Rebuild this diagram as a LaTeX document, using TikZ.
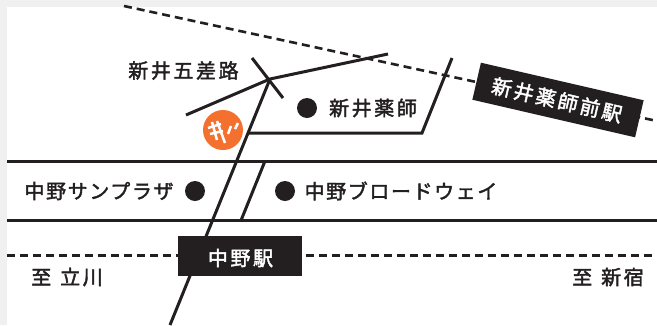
\documentclass[tikz,border=0pt]{standalone}
\usepackage{fontspec}
\newfontfamily\jp[LetterSpace=13,FakeBold=2]{Noto Sans CJK JP}
\newfontfamily\jpk[LetterSpace=8,FakeBold=2]{Noto Sans CJK JP}
\definecolor{ink}{HTML}{231F20}
\definecolor{bgm}{HTML}{F0F0F0}
\definecolor{logo}{HTML}{F4702E}
\tikzset{
  road/.style={draw=ink,line width=3pt},
  rail/.style={draw=ink,line width=2.6pt,dash pattern=on 8pt off 5pt},
  lbl/.style={font=\jp\fontsize{20}{22}\selectfont,text=ink,inner sep=0pt},
  klbl/.style={font=\jpk\fontsize{20}{22}\selectfont,text=ink,inner sep=0pt},
  wlbl/.style={font=\jp\fontsize{20}{22}\selectfont,text=white,inner sep=0pt},
  dot/.style={circle,fill=ink,minimum size=20pt,inner sep=0pt},
  stbox/.style={fill=ink,inner sep=0pt},
  glyph/.style={draw=white,line width=2.5pt},
}
\begin{document}
\begin{tikzpicture}[x=1pt,y=-1pt]
\useasboundingbox (0,0) rectangle (657,325);
\fill[bgm] (0,0) rectangle (657,325);
\fill[white] (7,7) rectangle (657,325);
% named points
\coordinate (r1) at (124,6);
\coordinate (r2) at (657,121);
\coordinate (w) at (186,115);
\coordinate (j) at (270,79);
\coordinate (e) at (388,54);
\coordinate (c1) at (252,58);
\coordinate (c2) at (283,98);
\coordinate (s) at (170,325);
\coordinate (p1) at (248,133);
\coordinate (p2) at (422,133);
\coordinate (p3) at (452,58);
\coordinate (h1a) at (7,161);
\coordinate (h1b) at (657,161);
\coordinate (h2a) at (7,220.5);
\coordinate (h2b) at (657,220.5);
\coordinate (d1) at (265,161);
\coordinate (d2) at (241,220.5);
\coordinate (t1) at (7,255.5);
\coordinate (t2) at (657,255.5);
% lines
\draw[rail] (r1) -- (r2);
\draw[rail] (t1) -- (t2);
\draw[road] (w) -- (j) -- (e);
\draw[road] (c1) -- (c2);
\draw[road] (j) -- (s);
\draw[road] (p1) -- (p2) -- (p3);
\draw[road] (h1a) -- (h1b);
\draw[road] (h2a) -- (h2b);
\draw[road] (d1) -- (d2);
% stations
\node[stbox,minimum width=124pt,minimum height=40pt] (nakano) at (240,256) {};
\node[wlbl] (nakanot) at (240.5,258) {中野駅};
\node[stbox,minimum width=167pt,minimum height=38pt,rotate=-13] (arai) at (558,100) {};
\node[wlbl,rotate=-13] (arait) at (557,100) {新井薬師前駅};
% labels
\node[lbl] (gosaro) at (183.5,70.5) {新井五差路};
\node[lbl] (yakushi) at (373,108) {新井薬師};
\node[klbl] (sunplaza) at (99,191) {中野サンプラザ};
\node[klbl] (broadway) at (401,191) {中野ブロードウェイ};
\node[lbl] (tachikawa) at (67,277) {至\hspace{9pt}立川};
\node[lbl] (shinjuku) at (608,277) {至\hspace{9pt}新宿};
% dots
\node[dot] (d-yakushi) at (307,108) {};
\node[dot] (d-sunplaza) at (195,191) {};
\node[dot] (d-broadway) at (285,191) {};
% logo
\node[circle,fill=logo,minimum size=40pt,inner sep=0pt] (mark) at (223,130) {};
\draw[glyph] ([shift={(-11,-8)}]mark.center) -- ([shift={(-6,10)}]mark.center);
\draw[glyph] ([shift={(-6,-9)}]mark.center) -- ([shift={(2,13)}]mark.center);
\draw[glyph] ([shift={(-15,-2)}]mark.center) -- ([shift={(-2,-6)}]mark.center);
\draw[glyph] ([shift={(-13,4)}]mark.center) -- ([shift={(0,1)}]mark.center);
\draw[glyph] ([shift={(8,-4)}]mark.center) -- ([shift={(5,4)}]mark.center);
\draw[glyph] ([shift={(15,-7)}]mark.center) -- ([shift={(12,-1)}]mark.center);
\end{tikzpicture}
\end{document}
